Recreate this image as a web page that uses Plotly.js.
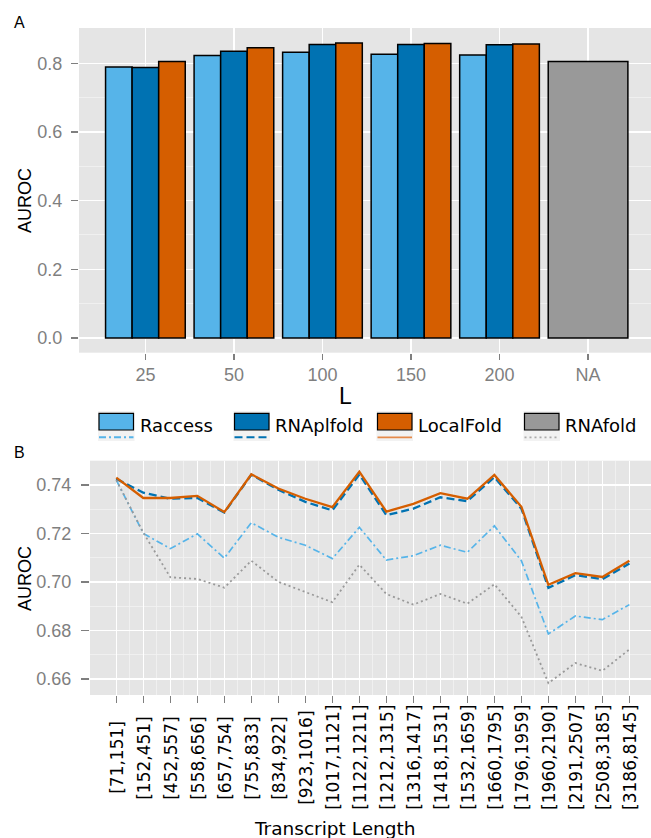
<!DOCTYPE html>
<html>
<head>
<meta charset="utf-8">
<script src="https://cdn.plot.ly/plotly-3.0.1.min.js"></script>
<style>
  html, body { margin: 0; padding: 0; background: #ffffff; }
  #chart { width: 651px; height: 838px; }
</style>
</head>
<body>
<div id="chart"></div>
<script>
// ---- Panel A: AUROC by window size L ----
const windowSizes = ['25', '50', '100', '150', '200', 'NA'];
const raccessA   = [0.789, 0.823, 0.832, 0.826, 0.824];
const rnaplfoldA = [0.788, 0.835, 0.855, 0.855, 0.854];
const localfoldA = [0.805, 0.845, 0.859, 0.858, 0.856];
const rnafoldA   = [0.805];              // RNAfold has no window, shown at "NA"
const rnafoldCategory = ['NA'];

// ---- Panel B: AUROC by transcript length bin ----
const lengthBins = ['[71,151]', '[152,451]', '[452,557]', '[558,656]', '[657,754]',
  '[755,833]', '[834,922]', '[923,1016]', '[1017,1121]', '[1122,1211]',
  '[1212,1315]', '[1316,1417]', '[1418,1531]', '[1532,1659]', '[1660,1795]',
  '[1796,1959]', '[1960,2190]', '[2191,2507]', '[2508,3185]', '[3186,8145]'];
const raccessB   = [0.7420, 0.7200, 0.7137, 0.7198, 0.7098, 0.7244, 0.7184, 0.7151, 0.7096, 0.7225,
                    0.7090, 0.7108, 0.7151, 0.7122, 0.7231, 0.7087, 0.6785, 0.6859, 0.6844, 0.6906];
const rnaplfoldB = [0.7425, 0.7368, 0.7343, 0.7346, 0.7286, 0.7442, 0.7380, 0.7330, 0.7295, 0.7443,
                    0.7275, 0.7302, 0.7349, 0.7333, 0.7432, 0.7302, 0.6975, 0.7028, 0.7011, 0.7076];
const localfoldB = [0.7430, 0.7346, 0.7346, 0.7355, 0.7288, 0.7444, 0.7385, 0.7343, 0.7308, 0.7455,
                    0.7290, 0.7322, 0.7366, 0.7343, 0.7441, 0.7310, 0.6988, 0.7036, 0.7020, 0.7087];
const rnafoldB   = [0.7420, 0.7203, 0.7019, 0.7012, 0.6976, 0.7087, 0.7000, 0.6959, 0.6916, 0.7071,
                    0.6950, 0.6906, 0.6950, 0.6910, 0.6990, 0.6856, 0.6582, 0.6665, 0.6633, 0.6721];

const methods = ['Raccess', 'RNAplfold', 'LocalFold', 'RNAfold'];
const colors  = ['#56B4E9', '#0072B2', '#D55E00', '#999999'];

// ---- page geometry (pixels -> paper fractions) ----
const W = 651, H = 838;
const px = v => v / W;
const py = v => 1 - v / H;

const tickGray = '#7F7F7F';
const sansFont = 'Liberation Sans, Arial, Helvetica, sans-serif';
const dejaFont = 'DejaVu Sans, sans-serif';

const idx = arr => arr.map((_, i) => i);

// dodged bars: three methods share each window-size slot
const barW = 0.3;
const barLine = { color: '#000000', width: 1.5 };
const traces = [
  { type: 'bar', x: idx(raccessA), y: raccessA, width: barW, offset: -0.45,
    marker: { color: colors[0], line: barLine }, xaxis: 'x', yaxis: 'y', name: methods[0], hoverinfo: 'skip' },
  { type: 'bar', x: idx(rnaplfoldA), y: rnaplfoldA, width: barW, offset: -0.15,
    marker: { color: colors[1], line: barLine }, xaxis: 'x', yaxis: 'y', name: methods[1], hoverinfo: 'skip' },
  { type: 'bar', x: idx(localfoldA), y: localfoldA, width: barW, offset: 0.15,
    marker: { color: colors[2], line: barLine }, xaxis: 'x', yaxis: 'y', name: methods[2], hoverinfo: 'skip' },
  { type: 'bar', x: rnafoldCategory.map(c => windowSizes.indexOf(c)), y: rnafoldA, width: 0.9, offset: -0.45,
    marker: { color: colors[3], line: barLine }, xaxis: 'x', yaxis: 'y', name: methods[3], hoverinfo: 'skip' },

  // line panel
  { type: 'scatter', mode: 'lines', x: idx(raccessB), y: raccessB, xaxis: 'x2', yaxis: 'y2',
    line: { color: colors[0], width: 1.7, dash: '7px,3px,2px,3px' }, name: methods[0], hoverinfo: 'skip' },
  { type: 'scatter', mode: 'lines', x: idx(rnaplfoldB), y: rnaplfoldB, xaxis: 'x2', yaxis: 'y2',
    line: { color: colors[1], width: 2.3, dash: '8px,4px' }, name: methods[1], hoverinfo: 'skip' },
  { type: 'scatter', mode: 'lines', x: idx(localfoldB), y: localfoldB, xaxis: 'x2', yaxis: 'y2',
    line: { color: colors[2], width: 2.3 }, name: methods[2], hoverinfo: 'skip' },
  { type: 'scatter', mode: 'lines', x: idx(rnafoldB), y: rnafoldB, xaxis: 'x2', yaxis: 'y2',
    line: { color: colors[3], width: 1.8, dash: '2px,3px' }, name: methods[3], hoverinfo: 'skip' }
];

const axisCommon = {
  ticks: 'outside', ticklen: 6, tickwidth: 1.5, tickcolor: tickGray,
  showgrid: true, gridcolor: '#FFFFFF', gridwidth: 1.6,
  zeroline: false, showline: false, fixedrange: true,
  tickfont: { family: sansFont, size: 18, color: tickGray }
};

// custom legend: filled key box with the line style underneath
const legendX = [99, 234.5, 377.5, 524.5];
const keyW = 34.5, boxTop = 413.3, boxBot = 430, lineY = 437.3;
const legendDash = ['7px,3px,2px,3px', '8px,4px', 'solid', '2px,3px'];
const legendLineColor = [colors[0], colors[1], '#E58A4A', '#AAAAAA'];
const shapes = [];
const annotations = [];
methods.forEach((m, i) => {
  const x0 = legendX[i], x1 = legendX[i] + keyW;
  shapes.push({ type: 'rect', xref: 'paper', yref: 'paper', x0: px(x0 - 1), x1: px(x1 + 1),
    y0: py(441), y1: py(411), fillcolor: '#F2F2F2', line: { width: 0 }, layer: 'above' });
  shapes.push({ type: 'rect', xref: 'paper', yref: 'paper', x0: px(x0), x1: px(x1),
    y0: py(boxBot), y1: py(boxTop), fillcolor: colors[i], line: { color: '#000000', width: 1.2 }, layer: 'above' });
  shapes.push({ type: 'line', xref: 'paper', yref: 'paper', x0: px(x0), x1: px(x1),
    y0: py(lineY), y1: py(lineY), line: { color: legendLineColor[i], width: i >= 2 ? 1.8 : 2, dash: legendDash[i] }, layer: 'above' });
  annotations.push({ xref: 'paper', yref: 'paper', x: px(x1 + 4), y: py(425.5), xanchor: 'left', yanchor: 'middle',
    text: m, showarrow: false, font: { family: dejaFont, size: 18, color: '#000000' } });
});

// vertical length-bin labels, centred under each tick
lengthBins.forEach((label, i) => {
  annotations.push({ xref: 'x2', yref: 'paper', x: i, y: py(757.5), text: label, textangle: -90,
    showarrow: false, xanchor: 'center', yanchor: 'middle',
    font: { family: dejaFont, size: 17, color: '#000000' } });
});

annotations.push(
  { xref: 'paper', yref: 'paper', x: px(19.5), y: py(22.5), text: 'A', showarrow: false,
    xanchor: 'center', yanchor: 'middle', font: { family: sansFont, size: 16, color: '#000000' } },
  { xref: 'paper', yref: 'paper', x: px(19), y: py(453), text: 'B', showarrow: false,
    xanchor: 'center', yanchor: 'middle', font: { family: sansFont, size: 16, color: '#000000' } },
  { xref: 'paper', yref: 'paper', x: px(25), y: py(201), text: 'AUROC', textangle: -90, showarrow: false,
    xanchor: 'center', yanchor: 'middle', font: { family: sansFont, size: 18, color: '#000000' } },
  { xref: 'paper', yref: 'paper', x: px(25), y: py(579), text: 'AUROC', textangle: -90, showarrow: false,
    xanchor: 'center', yanchor: 'middle', font: { family: sansFont, size: 18, color: '#000000' } },
  { xref: 'paper', yref: 'paper', x: px(346), y: py(395.5), text: 'L', showarrow: false,
    xanchor: 'center', yanchor: 'middle', font: { family: sansFont, size: 23, color: '#000000' } },
  { xref: 'paper', yref: 'paper', x: px(335), y: py(828), text: 'Transcript Length', showarrow: false,
    xanchor: 'center', yanchor: 'middle', font: { family: dejaFont, size: 18.5, color: '#000000' } }
);

const layout = {
  width: W, height: H, autosize: false,
  margin: { l: 0, r: 0, t: 0, b: 0, pad: 0 },
  paper_bgcolor: '#FFFFFF', plot_bgcolor: '#E5E5E5',
  showlegend: false, barmode: 'overlay', bargap: 0,
  xaxis: Object.assign({}, axisCommon, {
    domain: [px(79), 1], range: [-0.75, 5.711], anchor: 'y',
    tickmode: 'array', tickvals: idx(windowSizes), ticktext: windowSizes
  }),
  yaxis: Object.assign({}, axisCommon, {
    domain: [py(352.7), py(28)], range: [-0.0428, 0.9028], anchor: 'x',
    tickmode: 'array', tickvals: [0, 0.2, 0.4, 0.6, 0.8], tickformat: '.1f',
    ticklen: 7, ticklabelstandoff: 5,
    minor: { tickmode: 'array', tickvals: [0.1, 0.3, 0.5, 0.7], showgrid: true,
             gridcolor: '#F2F2F2', gridwidth: 0.8, ticks: '' }
  }),
  xaxis2: Object.assign({}, axisCommon, {
    domain: [px(90), 1], range: [-0.974, 19.80], anchor: 'y2',
    tickmode: 'array', tickvals: idx(lengthBins), ticktext: lengthBins,
    ticklen: 7, showticklabels: false,
    minor: { tickmode: 'array', tickvals: idx(lengthBins).slice(0, -1).map(i => i + 0.5), showgrid: true,
             gridcolor: '#F2F2F2', gridwidth: 0.8, ticks: '' }
  }),
  yaxis2: Object.assign({}, axisCommon, {
    domain: [py(695), py(460.7)], range: [0.6533, 0.7500], anchor: 'x2',
    tickmode: 'array', tickvals: [0.66, 0.68, 0.70, 0.72, 0.74], tickformat: '.2f',
    ticklen: 8, ticklabelstandoff: 6,
    minor: { tickmode: 'array', tickvals: [0.67, 0.69, 0.71, 0.73], showgrid: true,
             gridcolor: '#F2F2F2', gridwidth: 0.8, ticks: '' }
  }),
  shapes: shapes,
  annotations: annotations
};

Plotly.newPlot('chart', traces, layout, { displayModeBar: false, staticPlot: true });
</script>
</body>
</html>
